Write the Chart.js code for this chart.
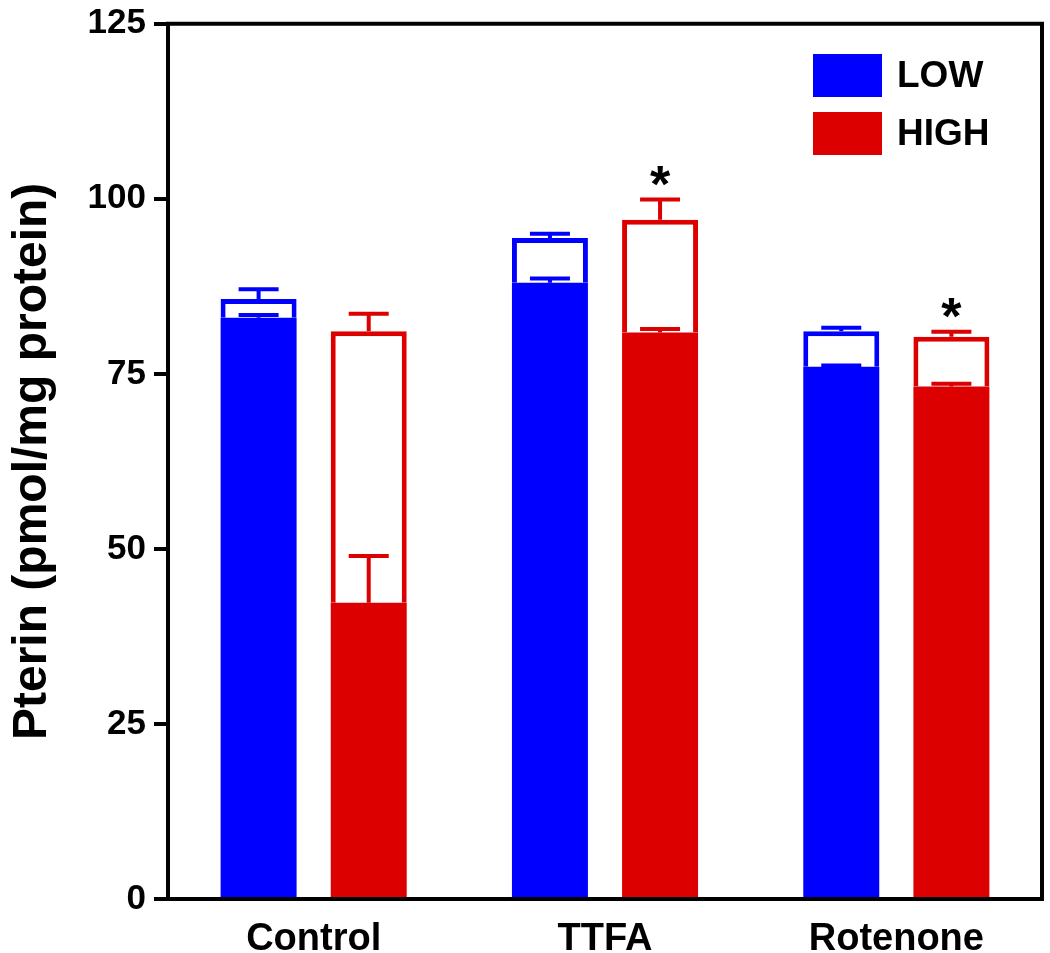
<!DOCTYPE html>
<html>
<head>
<meta charset="utf-8">
<script src="https://cdn.jsdelivr.net/npm/chart.js@4"></script>
<style>
  body { margin: 0; background: #fff; }
  #wrap { width: 1050px; height: 953px; position: relative; }
</style>
</head>
<body>
<div id="wrap"><canvas id="pterinChart"></canvas></div>
<script>
// Data
const categories = ['Control', 'TTFA', 'Rotenone'];
const seriesNames = ['LOW', 'HIGH'];

const lowFilled = [83.0, 88.0, 76.0];
const lowFilledErr = [0.4, 0.6, 0.2];
const lowTotal = [85.7, 94.4, 81.1];
const lowTotalErr = [1.4, 0.6, 0.5];

const highFilled = [42.3, 80.9, 73.2];
const highFilledErr = [6.7, 0.5, 0.4];
const highTotal = [81.1, 97.0, 80.3];
const highTotalErr = [2.5, 2.9, 0.7];

const significant = [false, true, true]; // asterisk over HIGH bar

const yTicks = [0, 25, 50, 75, 100, 125];

const BLUE = '#0000ff';
const RED = '#dc0000';

// Outline segment sits on top of the filled segment
const lowRest = lowTotal.map((v, i) => v - lowFilled[i]);
const highRest = highTotal.map((v, i) => v - highFilled[i]);

// Error bars, asterisks, frame and legend
const decorPlugin = {
    id: 'decor',
    afterDatasetsDraw(chart) {
        const ctx = chart.ctx;
        const y = chart.scales.y;
        const area = chart.chartArea;

        function errBar(x, top, err, color) {
            const y0 = y.getPixelForValue(top);
            const y1 = y.getPixelForValue(top + err);
            ctx.save();
            ctx.strokeStyle = color;
            ctx.lineWidth = 4;
            ctx.beginPath();
            ctx.moveTo(x, y0);
            ctx.lineTo(x, y1);
            ctx.moveTo(x - 20, y1);
            ctx.lineTo(x + 20, y1);
            ctx.stroke();
            ctx.restore();
        }

        const lowMeta = chart.getDatasetMeta(0);
        const highMeta = chart.getDatasetMeta(2);
        categories.forEach((c, i) => {
            const xl = lowMeta.data[i].x;
            const xh = highMeta.data[i].x;
            errBar(xl, lowFilled[i], lowFilledErr[i], BLUE);
            errBar(xl, lowTotal[i], lowTotalErr[i], BLUE);
            errBar(xh, highFilled[i], highFilledErr[i], RED);
            errBar(xh, highTotal[i], highTotalErr[i], RED);
            if (significant[i]) {
                const yc = y.getPixelForValue(highTotal[i] + highTotalErr[i]);
                ctx.save();
                ctx.fillStyle = '#000';
                ctx.font = 'bold 52px "Liberation Sans", Arial, sans-serif';
                ctx.textAlign = 'center';
                ctx.textBaseline = 'alphabetic';
                ctx.fillText('*', xh, yc + 2);
                ctx.restore();
            }
        });

        // top and right frame lines
        ctx.save();
        ctx.strokeStyle = '#000';
        ctx.lineWidth = 4;
        ctx.beginPath();
        ctx.moveTo(area.left - 2, area.top);
        ctx.lineTo(area.right, area.top);
        ctx.lineTo(area.right, area.bottom + 2);
        ctx.stroke();
        ctx.restore();

        // legend inside the plot
        const colors = [BLUE, RED];
        seriesNames.forEach((name, k) => {
            const top = 54 + k * 58;
            ctx.save();
            ctx.fillStyle = colors[k];
            ctx.fillRect(813, top, 69, 43);
            ctx.fillStyle = '#000';
            ctx.font = 'bold 37px "Liberation Sans", Arial, sans-serif';
            ctx.textAlign = 'left';
            ctx.textBaseline = 'middle';
            ctx.fillText(name, 897, top + 23);
            ctx.restore();
        });
    }
};

const ctx = document.getElementById('pterinChart').getContext('2d');
const pterinChart = new Chart(ctx, {
    type: 'bar',
    data: {
        labels: categories,
        datasets: [
            { label: 'LOW', data: lowFilled, stack: 'low', backgroundColor: BLUE, borderWidth: 0 },
            { label: 'LOW total', data: lowRest, stack: 'low', backgroundColor: '#fff', borderColor: BLUE, borderWidth: 5 },
            { label: 'HIGH', data: highFilled, stack: 'high', backgroundColor: RED, borderWidth: 0 },
            { label: 'HIGH total', data: highRest, stack: 'high', backgroundColor: '#fff', borderColor: RED, borderWidth: 5 }
        ]
    },
    options: {
        responsive: true,
        maintainAspectRatio: false,
        animation: false,
        categoryPercentage: 0.756,
        barPercentage: 0.69,
        layout: { padding: { top: 23, right: 8, left: 0, bottom: 0 } },
        scales: {
            x: {
                stacked: true,
                grid: { display: false },
                border: { display: true, color: '#000', width: 4 },
                ticks: {
                    color: '#000',
                    padding: 10,
                    font: { family: '"Liberation Sans", Arial, sans-serif', size: 38, weight: 'bold' }
                },
                afterFit(scale) { scale.height = 54; }
            },
            y: {
                stacked: true,
                min: 0,
                max: 125,
                afterBuildTicks(scale) { scale.ticks = yTicks.map(v => ({ value: v })); },
                grid: { drawOnChartArea: false, color: '#000', lineWidth: 4, tickLength: 14 },
                border: { display: true, color: '#000', width: 4 },
                ticks: {
                    color: '#000',
                    padding: 8,
                    font: { family: '"Liberation Sans", Arial, sans-serif', size: 35, weight: 'bold', lineHeight: 0.9 }
                },
                title: {
                    display: true,
                    text: 'Pterin (pmol/mg protein)',
                    color: '#000',
                    padding: { top: 4, bottom: 0 },
                    font: { family: '"Liberation Sans", Arial, sans-serif', size: 48, weight: 'bold' }
                },
                afterFit(scale) { scale.width = 168; }
            }
        },
        plugins: {
            legend: { display: false },
            tooltip: { enabled: false }
        }
    },
    plugins: [decorPlugin]
});
</script>
</body>
</html>
